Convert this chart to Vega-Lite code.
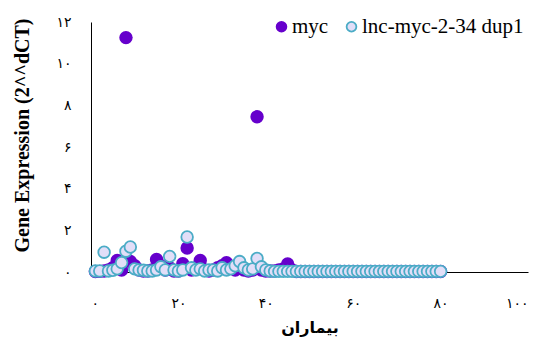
{
  "$schema": "https://vega.github.io/schema/vega-lite/v6.json",
  "width": 437,
  "height": 250,
  "autosize": "none",
  "padding": {"left": 91, "top": 22, "right": 18, "bottom": 75},
  "background": "white",
  "config": {"view": {"stroke": null}},
  "data": {"values": [
    {"x":1,"v":0.02,"s":"myc"},{"x":2,"v":0.03,"s":"myc"},{"x":3,"v":0.05,"s":"myc"},{"x":4,"v":0.1,"s":"myc"},{"x":5,"v":0.2,"s":"myc"},{"x":6,"v":0.55,"s":"myc"},{"x":7,"v":0.1,"s":"myc"},{"x":8,"v":11.25,"s":"myc"},{"x":9,"v":0.5,"s":"myc"},{"x":10,"v":0.3,"s":"myc"},
    {"x":11,"v":0.1,"s":"myc"},{"x":12,"v":0.05,"s":"myc"},{"x":13,"v":0.05,"s":"myc"},{"x":14,"v":0.1,"s":"myc"},{"x":15,"v":0.6,"s":"myc"},{"x":16,"v":0.3,"s":"myc"},{"x":17,"v":0.1,"s":"myc"},{"x":18,"v":0.2,"s":"myc"},{"x":19,"v":0.05,"s":"myc"},{"x":20,"v":0.05,"s":"myc"},
    {"x":21,"v":0.4,"s":"myc"},{"x":22,"v":1.15,"s":"myc"},{"x":23,"v":0.1,"s":"myc"},{"x":24,"v":0.2,"s":"myc"},{"x":25,"v":0.55,"s":"myc"},{"x":26,"v":0.1,"s":"myc"},{"x":27,"v":0.05,"s":"myc"},{"x":28,"v":0.1,"s":"myc"},{"x":29,"v":0.2,"s":"myc"},{"x":30,"v":0.3,"s":"myc"},
    {"x":31,"v":0.45,"s":"myc"},{"x":32,"v":0.2,"s":"myc"},{"x":33,"v":0.1,"s":"myc"},{"x":34,"v":0.2,"s":"myc"},{"x":35,"v":0.1,"s":"myc"},{"x":36,"v":0.05,"s":"myc"},{"x":37,"v":0.1,"s":"myc"},{"x":38,"v":7.45,"s":"myc"},{"x":39,"v":0.1,"s":"myc"},{"x":40,"v":0.05,"s":"myc"},
    {"x":41,"v":0.05,"s":"myc"},{"x":42,"v":0.05,"s":"myc"},{"x":43,"v":0.1,"s":"myc"},{"x":44,"v":0.15,"s":"myc"},{"x":45,"v":0.38,"s":"myc"},{"x":46,"v":0.1,"s":"myc"},{"x":47,"v":0.02,"s":"myc"},{"x":48,"v":0.02,"s":"myc"},{"x":49,"v":0.02,"s":"myc"},{"x":50,"v":0.02,"s":"myc"},
    {"x":51,"v":0.02,"s":"myc"},{"x":52,"v":0.02,"s":"myc"},{"x":53,"v":0.02,"s":"myc"},{"x":54,"v":0.02,"s":"myc"},{"x":55,"v":0.02,"s":"myc"},{"x":56,"v":0.02,"s":"myc"},{"x":57,"v":0.02,"s":"myc"},{"x":58,"v":0.02,"s":"myc"},{"x":59,"v":0.02,"s":"myc"},{"x":60,"v":0.02,"s":"myc"},
    {"x":61,"v":0.02,"s":"myc"},{"x":62,"v":0.02,"s":"myc"},{"x":63,"v":0.02,"s":"myc"},{"x":64,"v":0.02,"s":"myc"},{"x":65,"v":0.02,"s":"myc"},{"x":66,"v":0.02,"s":"myc"},{"x":67,"v":0.02,"s":"myc"},{"x":68,"v":0.02,"s":"myc"},{"x":69,"v":0.02,"s":"myc"},{"x":70,"v":0.02,"s":"myc"},
    {"x":71,"v":0.02,"s":"myc"},{"x":72,"v":0.02,"s":"myc"},{"x":73,"v":0.02,"s":"myc"},{"x":74,"v":0.02,"s":"myc"},{"x":75,"v":0.02,"s":"myc"},{"x":76,"v":0.02,"s":"myc"},{"x":77,"v":0.02,"s":"myc"},{"x":78,"v":0.02,"s":"myc"},{"x":79,"v":0.02,"s":"myc"},{"x":80,"v":0.02,"s":"myc"},
    {"x":1,"v":0.05,"s":"lnc-myc-2-34 dup1"},{"x":2,"v":0.05,"s":"lnc-myc-2-34 dup1"},{"x":3,"v":0.95,"s":"lnc-myc-2-34 dup1"},{"x":4,"v":0.05,"s":"lnc-myc-2-34 dup1"},{"x":5,"v":0.08,"s":"lnc-myc-2-34 dup1"},{"x":6,"v":0.15,"s":"lnc-myc-2-34 dup1"},{"x":7,"v":0.45,"s":"lnc-myc-2-34 dup1"},{"x":8,"v":1.0,"s":"lnc-myc-2-34 dup1"},{"x":9,"v":1.2,"s":"lnc-myc-2-34 dup1"},{"x":10,"v":0.15,"s":"lnc-myc-2-34 dup1"},
    {"x":11,"v":0.1,"s":"lnc-myc-2-34 dup1"},{"x":12,"v":0.08,"s":"lnc-myc-2-34 dup1"},{"x":13,"v":0.05,"s":"lnc-myc-2-34 dup1"},{"x":14,"v":0.05,"s":"lnc-myc-2-34 dup1"},{"x":15,"v":0.1,"s":"lnc-myc-2-34 dup1"},{"x":16,"v":0.25,"s":"lnc-myc-2-34 dup1"},{"x":17,"v":0.1,"s":"lnc-myc-2-34 dup1"},{"x":18,"v":0.75,"s":"lnc-myc-2-34 dup1"},{"x":19,"v":0.1,"s":"lnc-myc-2-34 dup1"},{"x":20,"v":0.05,"s":"lnc-myc-2-34 dup1"},
    {"x":21,"v":0.1,"s":"lnc-myc-2-34 dup1"},{"x":22,"v":1.68,"s":"lnc-myc-2-34 dup1"},{"x":23,"v":0.2,"s":"lnc-myc-2-34 dup1"},{"x":24,"v":0.1,"s":"lnc-myc-2-34 dup1"},{"x":25,"v":0.15,"s":"lnc-myc-2-34 dup1"},{"x":26,"v":0.05,"s":"lnc-myc-2-34 dup1"},{"x":27,"v":0.1,"s":"lnc-myc-2-34 dup1"},{"x":28,"v":0.1,"s":"lnc-myc-2-34 dup1"},{"x":29,"v":0.05,"s":"lnc-myc-2-34 dup1"},{"x":30,"v":0.2,"s":"lnc-myc-2-34 dup1"},
    {"x":31,"v":0.1,"s":"lnc-myc-2-34 dup1"},{"x":32,"v":0.15,"s":"lnc-myc-2-34 dup1"},{"x":33,"v":0.3,"s":"lnc-myc-2-34 dup1"},{"x":34,"v":0.5,"s":"lnc-myc-2-34 dup1"},{"x":35,"v":0.2,"s":"lnc-myc-2-34 dup1"},{"x":36,"v":0.1,"s":"lnc-myc-2-34 dup1"},{"x":37,"v":0.15,"s":"lnc-myc-2-34 dup1"},{"x":38,"v":0.65,"s":"lnc-myc-2-34 dup1"},{"x":39,"v":0.25,"s":"lnc-myc-2-34 dup1"},{"x":40,"v":0.1,"s":"lnc-myc-2-34 dup1"},
    {"x":41,"v":0.05,"s":"lnc-myc-2-34 dup1"},{"x":42,"v":0.03,"s":"lnc-myc-2-34 dup1"},{"x":43,"v":0.03,"s":"lnc-myc-2-34 dup1"},{"x":44,"v":0.03,"s":"lnc-myc-2-34 dup1"},{"x":45,"v":0.03,"s":"lnc-myc-2-34 dup1"},{"x":46,"v":0.03,"s":"lnc-myc-2-34 dup1"},{"x":47,"v":0.03,"s":"lnc-myc-2-34 dup1"},{"x":48,"v":0.03,"s":"lnc-myc-2-34 dup1"},{"x":49,"v":0.03,"s":"lnc-myc-2-34 dup1"},{"x":50,"v":0.03,"s":"lnc-myc-2-34 dup1"},
    {"x":51,"v":0.03,"s":"lnc-myc-2-34 dup1"},{"x":52,"v":0.03,"s":"lnc-myc-2-34 dup1"},{"x":53,"v":0.03,"s":"lnc-myc-2-34 dup1"},{"x":54,"v":0.03,"s":"lnc-myc-2-34 dup1"},{"x":55,"v":0.03,"s":"lnc-myc-2-34 dup1"},{"x":56,"v":0.03,"s":"lnc-myc-2-34 dup1"},{"x":57,"v":0.03,"s":"lnc-myc-2-34 dup1"},{"x":58,"v":0.03,"s":"lnc-myc-2-34 dup1"},{"x":59,"v":0.03,"s":"lnc-myc-2-34 dup1"},{"x":60,"v":0.03,"s":"lnc-myc-2-34 dup1"},
    {"x":61,"v":0.03,"s":"lnc-myc-2-34 dup1"},{"x":62,"v":0.03,"s":"lnc-myc-2-34 dup1"},{"x":63,"v":0.03,"s":"lnc-myc-2-34 dup1"},{"x":64,"v":0.03,"s":"lnc-myc-2-34 dup1"},{"x":65,"v":0.03,"s":"lnc-myc-2-34 dup1"},{"x":66,"v":0.03,"s":"lnc-myc-2-34 dup1"},{"x":67,"v":0.03,"s":"lnc-myc-2-34 dup1"},{"x":68,"v":0.03,"s":"lnc-myc-2-34 dup1"},{"x":69,"v":0.03,"s":"lnc-myc-2-34 dup1"},{"x":70,"v":0.03,"s":"lnc-myc-2-34 dup1"},
    {"x":71,"v":0.03,"s":"lnc-myc-2-34 dup1"},{"x":72,"v":0.03,"s":"lnc-myc-2-34 dup1"},{"x":73,"v":0.03,"s":"lnc-myc-2-34 dup1"},{"x":74,"v":0.03,"s":"lnc-myc-2-34 dup1"},{"x":75,"v":0.03,"s":"lnc-myc-2-34 dup1"},{"x":76,"v":0.03,"s":"lnc-myc-2-34 dup1"},{"x":77,"v":0.03,"s":"lnc-myc-2-34 dup1"},{"x":78,"v":0.03,"s":"lnc-myc-2-34 dup1"},{"x":79,"v":0.03,"s":"lnc-myc-2-34 dup1"},{"x":80,"v":0.03,"s":"lnc-myc-2-34 dup1"}
  ]},
  "mark": {"type": "point", "filled": true, "opacity": 1, "size": 135, "strokeWidth": 1.8, "shape": "circle", "clip": false},
  "encoding": {
    "x": {
      "field": "x", "type": "quantitative",
      "scale": {"domain": [0, 100], "nice": false, "zero": true},
      "axis": {
        "title": "بیماران", "titleFont": "DejaVu Sans", "titleFontSize": 16, "titleFontWeight": "bold", "titleColor": "black", "titlePadding": 9,
        "values": [0, 20, 40, 60, 80, 100], "grid": false, "ticks": false, "domainColor": "black", "domainWidth": 1,
        "labelFont": "DejaVu Sans", "labelFontSize": 14, "labelColor": "black", "labelPadding": 24,
        "labelExpr": "datum.value == 0 ? '۰' : datum.value == 20 ? '۲۰' : datum.value == 40 ? '۴۰' : datum.value == 60 ? '۶۰' : datum.value == 80 ? '۸۰' : '۱۰۰'"
      }
    },
    "y": {
      "field": "v", "type": "quantitative",
      "scale": {"domain": [0, 12], "nice": false},
      "axis": {
        "title": "Gene Expression (2^^dCT)", "titleFont": "Liberation Serif", "titleFontSize": 20, "titleFontWeight": "bold", "titleColor": "black",
        "titleX": -69, "titleY": 113, "titleAngle": -90, "titleAlign": "center", "titleBaseline": "middle",
        "values": [0, 2, 4, 6, 8, 10, 12], "grid": false, "ticks": false, "domainColor": "black", "domainWidth": 1,
        "labelFont": "DejaVu Sans", "labelFontSize": 14, "labelColor": "black", "labelPadding": 20,
        "labelExpr": "datum.value == 0 ? '۰' : datum.value == 2 ? '۲' : datum.value == 4 ? '۴' : datum.value == 6 ? '۶' : datum.value == 8 ? '۸' : datum.value == 10 ? '۱۰' : '۱۲'"
      }
    },
    "fill": {
      "field": "s", "type": "nominal",
      "scale": {"domain": ["myc", "lnc-myc-2-34 dup1"], "range": ["#6600CC", "#E2DEF8"]},
      "legend": {
        "title": null, "orient": "none", "legendX": 180, "legendY": -6, "direction": "horizontal",
        "labelFont": "Liberation Serif", "labelFontSize": 21, "labelColor": "black", "labelLimit": 0, "symbolSize": 95, "symbolStrokeWidth": 1.8,
        "columnPadding": 12, "labelOffset": 0, "symbolType": "circle"
      }
    },
    "stroke": {
      "field": "s", "type": "nominal",
      "scale": {"domain": ["myc", "lnc-myc-2-34 dup1"], "range": ["#6600CC", "#4BACC6"]},
      "legend": {
        "title": null, "orient": "none", "legendX": 180, "legendY": -6, "direction": "horizontal",
        "labelFont": "Liberation Serif", "labelFontSize": 21, "labelColor": "black", "labelLimit": 0, "symbolSize": 95, "symbolStrokeWidth": 1.8,
        "columnPadding": 12, "labelOffset": 0, "symbolType": "circle"
      }
    }
  }
}
